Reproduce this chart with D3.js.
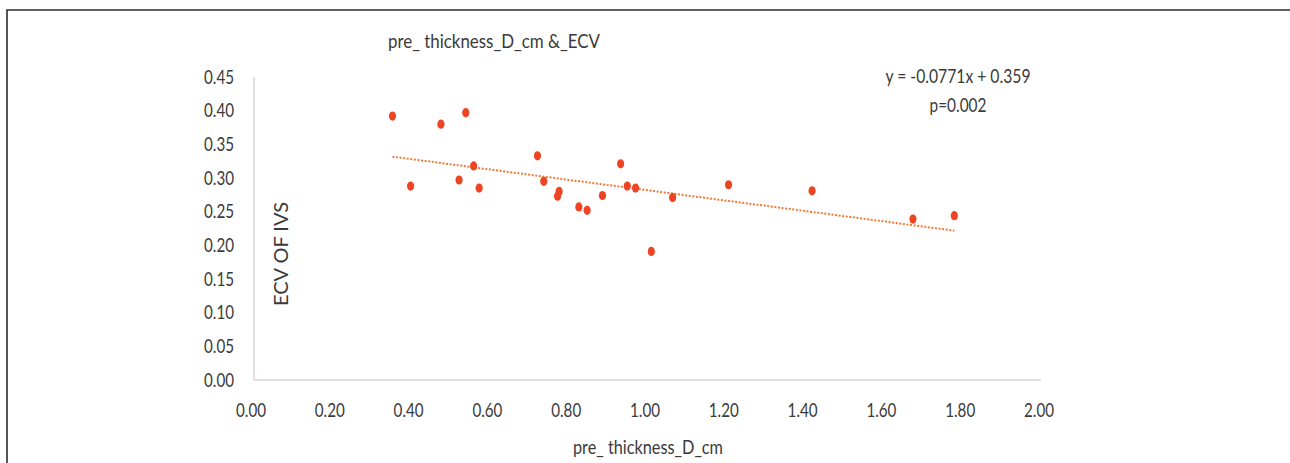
<!DOCTYPE html>
<html><head><meta charset="utf-8">
<script src="https://cdn.jsdelivr.net/npm/d3@7"></script>
<style>
html,body{margin:0;padding:0;background:#fff;}
text{font-family:Lato,"Open Sans",sans-serif;fill:#3a3a3a;}
</style></head>
<body><svg id="c" width="1290" height="463"></svg>
<script>
const thickness = [0.354,0.400,0.477,0.523,0.540,0.560,0.574,0.722,0.738,0.777,0.773,0.827,0.848,0.887,0.933,0.950,0.971,1.011,1.065,1.207,1.419,1.675,1.780];
const ecv =       [0.392,0.288,0.380,0.297,0.397,0.318,0.285,0.333,0.295,0.280,0.273,0.257,0.252,0.274,0.321,0.288,0.285,0.191,0.271,0.290,0.281,0.239,0.244];
const xTicks = [0,0.2,0.4,0.6,0.8,1.0,1.2,1.4,1.6,1.8,2.0];
const yTicks = [0,0.05,0.10,0.15,0.20,0.25,0.30,0.35,0.40,0.45];
const slope = -0.0771, intercept = 0.359;
const titleText = "pre_ thickness_D_cm &_ECV";
const xTitle = "pre_ thickness_D_cm";
const yTitle = "ECV OF IVS";
const eqText = "y = -0.0771x + 0.359";
const pText = "p=0.002";

const svg = d3.select("#c");
// frame
svg.append("path").attr("d","M7,463 V10 H1290").attr("fill","none").attr("stroke","#2b2b2b").attr("stroke-width",1.6);

const x = d3.scaleLinear().domain([0,2]).range([253,1041]);
const y = d3.scaleLinear().domain([0,0.45]).range([380,77]);

// axes lines
svg.append("line").attr("x1",x(0)+1).attr("x2",x(2)).attr("y1",y(0)).attr("y2",y(0)).attr("stroke","#ddd3d1").attr("stroke-width",1.5);
svg.append("line").attr("x1",x(0)+1).attr("x2",x(0)+1).attr("y1",y(0.45)).attr("y2",y(0)).attr("stroke","#ddd3d1").attr("stroke-width",1.5);

const fs = 18.5;
svg.append("g").selectAll("text").data(yTicks).join("text")
  .attr("x",234).attr("y",d=>y(d)+6.5).attr("text-anchor","end").attr("font-size",fs)
  .attr("textLength",30).attr("lengthAdjust","spacingAndGlyphs")
  .text(d=>d3.format(".2f")(d));
svg.append("g").selectAll("text").data(xTicks).join("text")
  .attr("x",d=>x(d)-2).attr("y",417).attr("text-anchor","middle").attr("font-size",fs)
  .attr("textLength",30).attr("lengthAdjust","spacingAndGlyphs")
  .text(d=>d3.format(".2f")(d));

svg.append("text").attr("x",494).attr("y",48).attr("text-anchor","middle").attr("font-size",fs)
  .attr("textLength",212).attr("lengthAdjust","spacingAndGlyphs").text(titleText);
svg.append("text").attr("x",648).attr("y",454).attr("text-anchor","middle").attr("font-size",fs)
  .attr("textLength",150).attr("lengthAdjust","spacingAndGlyphs").text(xTitle);
svg.append("text").attr("transform","translate(288,254) rotate(-90)").attr("text-anchor","middle").attr("font-size",fs)
  .attr("textLength",104).attr("lengthAdjust","spacingAndGlyphs").text(yTitle);
svg.append("text").attr("x",958).attr("y",83).attr("text-anchor","middle").attr("font-size",fs)
  .attr("textLength",145).attr("lengthAdjust","spacingAndGlyphs").text(eqText);
svg.append("text").attr("x",958).attr("y",112).attr("text-anchor","middle").attr("font-size",fs)
  .attr("textLength",57).attr("lengthAdjust","spacingAndGlyphs").text(pText);

// trendline
const xmin = d3.min(thickness), xmax = d3.max(thickness);
svg.append("line")
  .attr("x1",x(xmin)).attr("y1",y(slope*xmin+intercept))
  .attr("x2",x(xmax)).attr("y2",y(slope*xmax+intercept))
  .attr("stroke","#f07a35").attr("stroke-width",2).attr("stroke-dasharray","2,1.6");

// points
svg.append("g").selectAll("ellipse").data(thickness.map((t,i)=>[t,ecv[i]])).join("ellipse")
  .attr("cx",d=>x(d[0])).attr("cy",d=>y(d[1])).attr("rx",3.6).attr("ry",4.6)
  .attr("fill","#ee4423");
</script></body></html>
